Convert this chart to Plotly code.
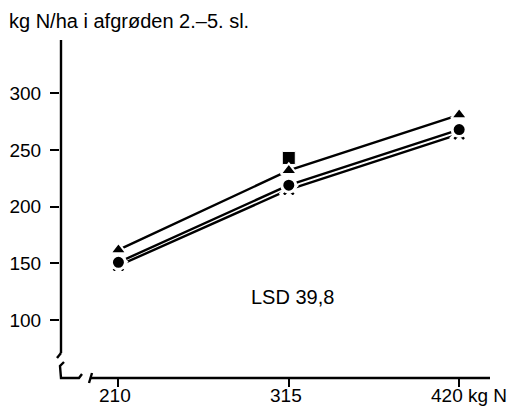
import plotly.graph_objects as go

x_levels = [210, 315, 420]
x_labels = ["210", "315", "420 kg N"]
y_ticks = [100, 150, 200, 250, 300]
tri = [162, 232, 281]
square = [150, 243, 266]
circle = [151, 219, 268]
star = [148, 215, 264]

title_text = "kg N/ha i afgrøden 2.–5. sl."
lsd_text = "LSD 39,8"

W, H = 529, 414
L, R, T, B = 60, 39, 40, 36
pw, ph = W - L - R, H - T - B

def px(x):
    return (x - L) / pw

def py(y):
    return (H - B - y) / ph

FONT = "Liberation Sans, Arial, Helvetica, sans-serif"
fig = go.Figure()

def add(yv, sym, size, mode="lines+markers", lw=3):
    fig.add_trace(go.Scatter(
        x=x_levels, y=yv, mode=mode,
        line=dict(color="black", width=2.4),
        marker=dict(symbol=sym, size=size, color="black",
                    line=dict(color="white", width=lw)),
        showlegend=False, cliponaxis=False))

add(square, "square", 13, mode="markers", lw=1)
add(star, "x", 14)
add(circle, "circle", 14)
add(tri, "triangle-up", 14, lw=2)

black = dict(color="black", width=2.4)
shapes = [
    dict(type="line", xref="paper", yref="paper", x0=px(61), x1=px(61), y0=1, y1=py(353), line=black),
    dict(type="line", xref="paper", yref="paper", x0=px(61), x1=px(57), y0=py(353), y1=py(358), line=black),
    dict(type="path", xref="paper", yref="paper",
         path=f"M {px(64)},{py(362)} L {px(60)},{py(366)} L {px(61)},{py(378)} L {px(79)},{py(378)} L {px(82)},{py(374)}",
         line=black),
    dict(type="line", xref="paper", yref="paper", x0=px(89), x1=px(92), y0=py(383), y1=py(373), line=black),
    dict(type="line", xref="paper", yref="paper", x0=px(91), x1=1, y0=0, y1=0, line=black),
]

annotations = [
    dict(text=title_text, xref="paper", yref="paper", x=px(7), y=py(21),
         xanchor="left", yanchor="middle", showarrow=False,
         font=dict(size=20, family=FONT)),
    dict(text=lsd_text, xref="paper", yref="paper", x=px(292), y=py(297),
         xanchor="center", yanchor="middle", showarrow=False,
         font=dict(size=20, family=FONT)),
]
for i, (xv, lab) in enumerate(zip(x_levels, x_labels)):
    last = i == len(x_levels) - 1
    annotations.append(dict(
        text=lab, xref="x", yref="paper", x=xv, y=py(395),
        xanchor="left" if last else "center", xshift=-30 if last else -3,
        yanchor="middle", showarrow=False, font=dict(size=19, family=FONT)))

fig.update_layout(
    width=W, height=H,
    margin=dict(l=L, r=R, t=T, b=B, autoexpand=False),
    paper_bgcolor="white", plot_bgcolor="white",
    font=dict(family=FONT, size=19, color="black"),
    xaxis=dict(range=[174, 439], showgrid=False, zeroline=False, showline=False,
               automargin=False, showticklabels=False,
               tickmode="array", tickvals=x_levels,
               ticks="outside", ticklen=8, tickwidth=2.4, tickcolor="black"),
    yaxis=dict(range=[49, 347], showgrid=False, zeroline=False, showline=False,
               automargin=False,
               tickmode="array", tickvals=y_ticks,
               ticks="outside", ticklen=9, tickwidth=2.4, tickcolor="black",
               ticklabelstandoff=5,
               tickfont=dict(size=19, family=FONT)),
    shapes=shapes,
    annotations=annotations,
)

fig.write_html("out.html")
